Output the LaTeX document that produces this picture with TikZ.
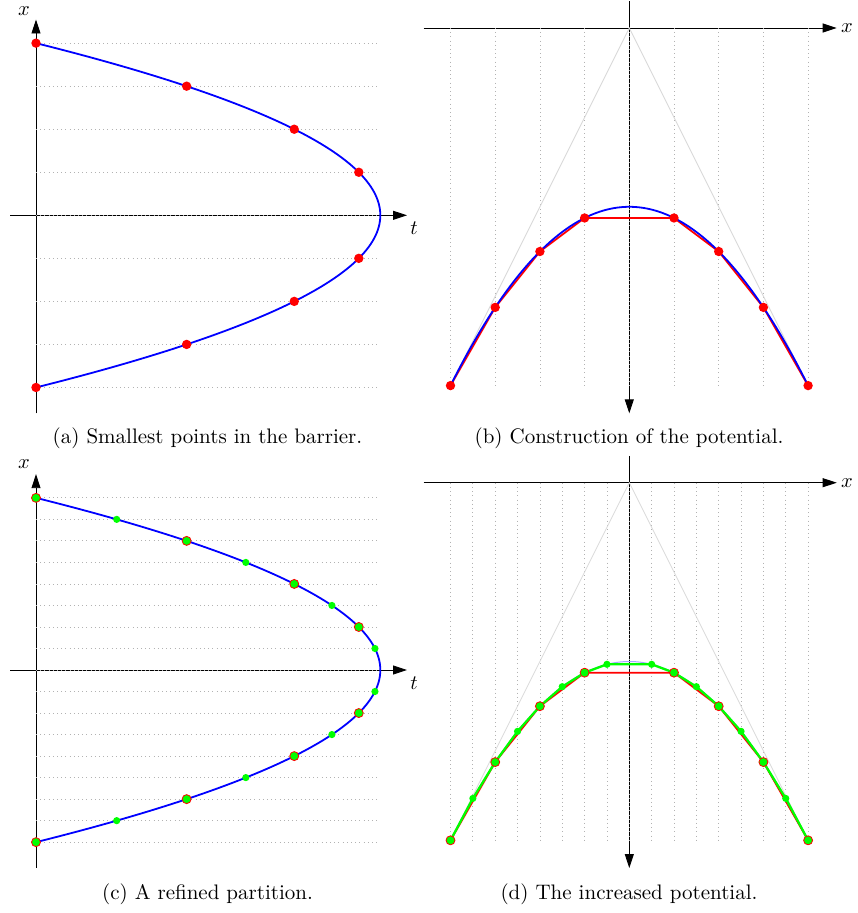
\documentclass[tikz,border=0pt]{standalone}
\usetikzlibrary{arrows.meta}
\tikzset{
  axisline/.style={line width=0.9pt, black, -{Triangle[length=14pt,width=9pt]}},
  gridline/.style={black!30, line width=0.8pt, dash pattern=on 0.8pt off 3.4pt},
  tangline/.style={black!15, line width=0.8pt},
  bluecurve/.style={blue, line width=1.8pt},
  paleblue/.style={blue!35, line width=1pt},
  redline/.style={red, line width=1.8pt, line join=round},
  greenline/.style={green, line width=2.3pt, line join=round},
  redpt/.style={fill=red},
  ringpt/.style={fill=green, draw=red, line width=0.8pt},
  greenpt/.style={fill=green},
  caption/.style={anchor=base, scale=2.1, inner sep=0pt},
  mathlabel/.style={scale=2.05, inner sep=0pt}
}
\begin{document}
\begin{tikzpicture}[x=1pt,y=-1pt]
\useasboundingbox (0,0) rectangle (857,913);

% ---------- (a) ----------
\begin{scope}[shift={(36pt,-215.3pt)}, x=43.04pt, y=43.04pt]
  \draw[axisline] (-0.6,0) -- (8.62,0);
  \draw[axisline] (0,-4.6) -- (0,4.55);
  \foreach \k in {-4,...,4} \draw[gridline] (0,\k) -- (8,\k);
  \draw[bluecurve] plot[domain=-4:4, samples=121, smooth] ({8-\x*\x/2},\x);
  \foreach \k in {-4,-3,-2,-1,1,2,3,4} \fill[redpt] ({8-\k*\k/2},\k) circle[radius=4.7pt];
\end{scope}
\node[mathlabel] (xa) at (24,11) {$x$};
\node[mathlabel] (ta) at (414,228) {$t$};
\node[caption] (capa) at (207.5,443) {(a) Smallest points in the barrier.};

% ---------- (b) ----------
\begin{scope}[shift={(629.3pt,-28pt)}, x=44.7pt, y=-44.7pt]
  \draw[axisline] (-4.6,0) -- (4.64,0);
  \draw[axisline] (0,-0.6) -- (0,8.62);
  \foreach \k in {-4,...,4} \draw[gridline] (\k,0) -- (\k,8);
  \draw[tangline] (-4,8) -- (0,0) -- (4,8);
  \draw[redline] (-4,8) -- (-3,6.25) -- (-2,5) -- (-1,4.25) -- (1,4.25) -- (2,5) -- (3,6.25) -- (4,8);
  \draw[bluecurve] plot[domain=-4:4, samples=121, smooth] (\x,{4+\x*\x/4});
  \foreach \k in {-4,-3,-2,-1,1,2,3,4} \fill[redpt] (\k,{4+\k*\k/4}) circle[radius=4.7pt];
\end{scope}
\node[mathlabel] (xb) at (847,28) {$x$};
\node[caption] (capb) at (629,443) {(b) Construction of the potential.};

% ---------- (c) ----------
\begin{scope}[shift={(36pt,-670pt)}, x=43.04pt, y=43.04pt]
  \draw[axisline] (-0.6,0) -- (8.62,0);
  \draw[axisline] (0,-4.6) -- (0,4.55);
  \foreach \k in {-4,-3.5,...,4} \draw[gridline] (0,\k) -- (8,\k);
  \draw[bluecurve] plot[domain=-4:4, samples=121, smooth] ({8-\x*\x/2},\x);
  \foreach \k in {-3.5,-2.5,-1.5,-0.5,0.5,1.5,2.5,3.5} \fill[greenpt] ({8-\k*\k/2},\k) circle[radius=3.6pt];
  \foreach \k in {-4,-3,-2,-1,1,2,3,4} \filldraw[ringpt] ({8-\k*\k/2},\k) circle[radius=4.5pt];
\end{scope}
\node[mathlabel] (xc) at (24,464) {$x$};
\node[mathlabel] (tc) at (414,683) {$t$};
\node[caption] (capc) at (207.5,899) {(c) A refined partition.};

% ---------- (d) ----------
\begin{scope}[shift={(629.3pt,-482.7pt)}, x=44.7pt, y=-44.7pt]
  \draw[axisline] (-4.6,0) -- (4.64,0);
  \draw[axisline] (0,-0.6) -- (0,8.62);
  \foreach \k in {-4,-3.5,...,4} \draw[gridline] (\k,0) -- (\k,8);
  \draw[tangline] (-4,8) -- (0,0) -- (4,8);
  \draw[paleblue] plot[domain=-4:4, samples=121, smooth] (\x,{4+\x*\x/4});
  \draw[redline] (-4,8) -- (-3,6.25) -- (-2,5) -- (-1,4.25) -- (1,4.25) -- (2,5) -- (3,6.25) -- (4,8);
  \draw[greenline] (-4,8) -- (-3.5,7.0625) -- (-3,6.25) -- (-2.5,5.5625) -- (-2,5) -- (-1.5,4.5625) -- (-1,4.25) -- (-0.5,4.0625)
     -- (0.5,4.0625) -- (1,4.25) -- (1.5,4.5625) -- (2,5) -- (2.5,5.5625) -- (3,6.25) -- (3.5,7.0625) -- (4,8);
  \foreach \k in {-3.5,-2.5,-1.5,-0.5,0.5,1.5,2.5,3.5} \fill[greenpt] (\k,{4+\k*\k/4}) circle[radius=3.6pt];
  \foreach \k in {-4,-3,-2,-1,1,2,3,4} \filldraw[ringpt] (\k,{4+\k*\k/4}) circle[radius=4.5pt];
\end{scope}
\node[mathlabel] (xd) at (847,483) {$x$};
\node[caption] (capd) at (629,899) {(d) The increased potential.};
\end{tikzpicture}
\end{document}
